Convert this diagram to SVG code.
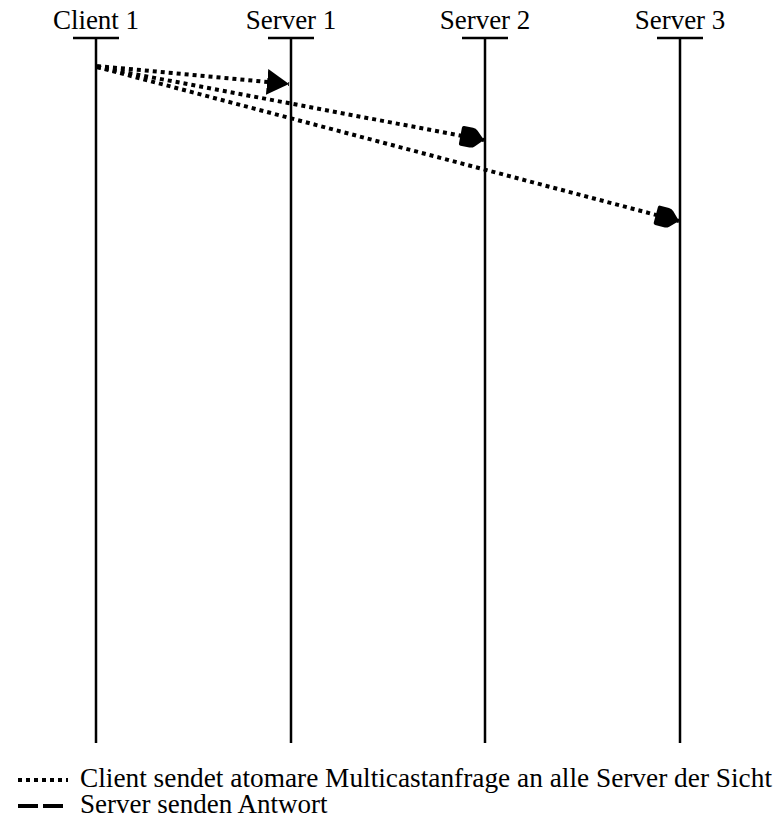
<svg xmlns="http://www.w3.org/2000/svg" width="780" height="833" viewBox="0 0 780 833">
  <style>
    .lbl { font-family: "Liberation Serif", "Times New Roman", serif; font-size: 27px; fill: #000; }
    .leg { font-family: "Liberation Serif", "Times New Roman", serif; font-size: 27px; fill: #000; }
    .life { stroke: #000; stroke-width: 2.5; fill: none; }
    .bar { stroke: #000; stroke-width: 2.5; }
    .req { stroke: #000; stroke-width: 4; stroke-dasharray: 4 4; fill: none; }
    .resp { stroke: #000; stroke-width: 4; stroke-dasharray: 20 5; fill: none; }
  </style>
  <defs>
    <!-- filled triangle head -->
    <marker id="tri" viewBox="0 0 22 26" refX="22" refY="13" markerWidth="22" markerHeight="26" markerUnits="userSpaceOnUse" orient="auto">
      <path d="M0 0 L22 13 L0 26 Z" fill="#000"/>
    </marker>
    <!-- rounded pointed head -->
    <marker id="pent" viewBox="0 0 26 22" refX="26" refY="11" markerWidth="26" markerHeight="22" markerUnits="userSpaceOnUse" orient="auto">
      <path d="M2 3 Q2 1 4 1 L13 1 Q16 1 18 3 L26 11 L18 19 Q16 21 13 21 L4 21 Q2 21 2 19 Z" fill="#000"/>
    </marker>
  </defs>

  <g id="client1">
    <text class="lbl" x="96" y="29" text-anchor="middle">Client 1</text>
    <line class="bar" x1="73" y1="38" x2="119" y2="38"/>
    <line class="life" x1="96" y1="38" x2="96" y2="743"/>
  </g>
  <g id="server1">
    <text class="lbl" x="291" y="29" text-anchor="middle">Server 1</text>
    <line class="bar" x1="268" y1="38" x2="314" y2="38"/>
    <line class="life" x1="291" y1="38" x2="291" y2="743"/>
  </g>
  <g id="server2">
    <text class="lbl" x="485" y="29" text-anchor="middle">Server 2</text>
    <line class="bar" x1="462" y1="38" x2="508" y2="38"/>
    <line class="life" x1="485" y1="38" x2="485" y2="743"/>
  </g>
  <g id="server3">
    <text class="lbl" x="680" y="29" text-anchor="middle">Server 3</text>
    <line class="bar" x1="657" y1="38" x2="703" y2="38"/>
    <line class="life" x1="680" y1="38" x2="680" y2="743"/>
  </g>

  <g id="connectors">
    <line class="req" x1="97" y1="66" x2="289" y2="84" marker-end="url(#tri)"/>
    <line class="req" x1="97" y1="67" x2="484" y2="140" marker-end="url(#pent)"/>
    <line class="req" x1="97" y1="67" x2="679" y2="221" marker-end="url(#pent)"/>
  </g>

  <g id="legend">
    <line class="req" x1="18" y1="780" x2="68" y2="780"/>
    <text class="leg" x="80" y="787" textLength="692" lengthAdjust="spacingAndGlyphs">Client sendet atomare Multicastanfrage an alle Server der Sicht</text>
    <line class="resp" x1="18" y1="806" x2="63" y2="806"/>
    <text class="leg" x="80" y="813">Server senden Antwort</text>
  </g>
</svg>
